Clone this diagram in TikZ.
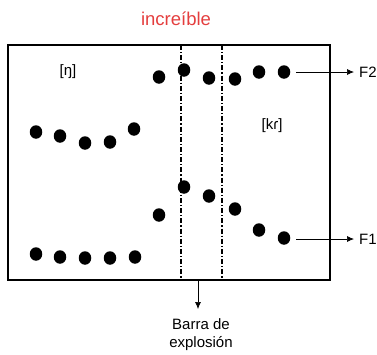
\documentclass[tikz,border=0pt]{standalone}
\usepackage{fontspec}
\setmainfont{Liberation Sans}
\usetikzlibrary{arrows.meta,shapes.geometric}
\definecolor{titlered}{RGB}{228,62,62}
\begin{document}
\begin{tikzpicture}[x=1pt, y=-1pt,
    dot/.style={ellipse, fill=black, inner sep=0pt, minimum width=12.5pt, minimum height=13.5pt},
    lbl/.style={font=\fontsize{15}{18}\selectfont, inner sep=1pt},
    barline/.style={line width=1.3pt, dash pattern=on 5pt off 2pt on 1.2pt off 2pt},
    outarrow/.style={line width=0.7pt, -{Latex[length=7pt,width=6pt]}}]
  \useasboundingbox (0,0) rectangle (377,354);

  % title and frame
  \node[lbl, font=\fontsize{18.5}{22}\selectfont, text=titlered] (title) at (176,19) {increíble};
  \draw[line width=1.8pt] (8,45) rectangle (330,280);
  \draw[barline] (181,45) -- (181,280);
  \draw[barline] (222,45) -- (222,280);

  % segment labels
  \node[lbl] (eng) at (68,72) {[ŋ]};
  \node[lbl] (kr) at (272,126) {[kɾ]};

  % F2 track
  \node[dot] (a1) at (159,77) {};
  \node[dot] (a2) at (184,70) {};
  \node[dot] (a3) at (209,78) {};
  \node[dot] (a4) at (235,79) {};
  \node[dot] (a5) at (259,72) {};
  \node[dot] (a6) at (284,72) {};
  \node[dot] (b1) at (36,132) {};
  \node[dot] (b2) at (60,136) {};
  \node[dot] (b3) at (85,143) {};
  \node[dot] (b4) at (110,142) {};
  \node[dot] (b5) at (134,129) {};

  % F1 track
  \node[dot] (c1) at (159,215) {};
  \node[dot] (c2) at (184,187) {};
  \node[dot] (c3) at (209,196) {};
  \node[dot] (c4) at (235,209) {};
  \node[dot] (c5) at (259,230) {};
  \node[dot] (c6) at (284,238) {};
  \node[dot] (d1) at (36,254) {};
  \node[dot] (d2) at (60,257) {};
  \node[dot] (d3) at (85,258) {};
  \node[dot] (d4) at (110,258) {};
  \node[dot] (d5) at (135,257) {};

  % formant labels
  \node[lbl, anchor=west] (f2) at (358,72) {F2};
  \node[lbl, anchor=west] (f1) at (358,239) {F1};
  \draw[outarrow, shorten <=6pt, shorten >=4pt] (a6.east) -- (f2.west);
  \draw[outarrow, shorten <=6pt, shorten >=4pt] (c6.east |- f1.west) -- (f1.west);

  % explosion bar
  \coordinate (barfoot) at (198,281);
  \node[lbl, align=center, anchor=north] (barra) at (201,317) {Barra de\\explosión};
  \draw[outarrow] (barfoot) -- (barfoot |- 0,309);
\end{tikzpicture}
\end{document}
